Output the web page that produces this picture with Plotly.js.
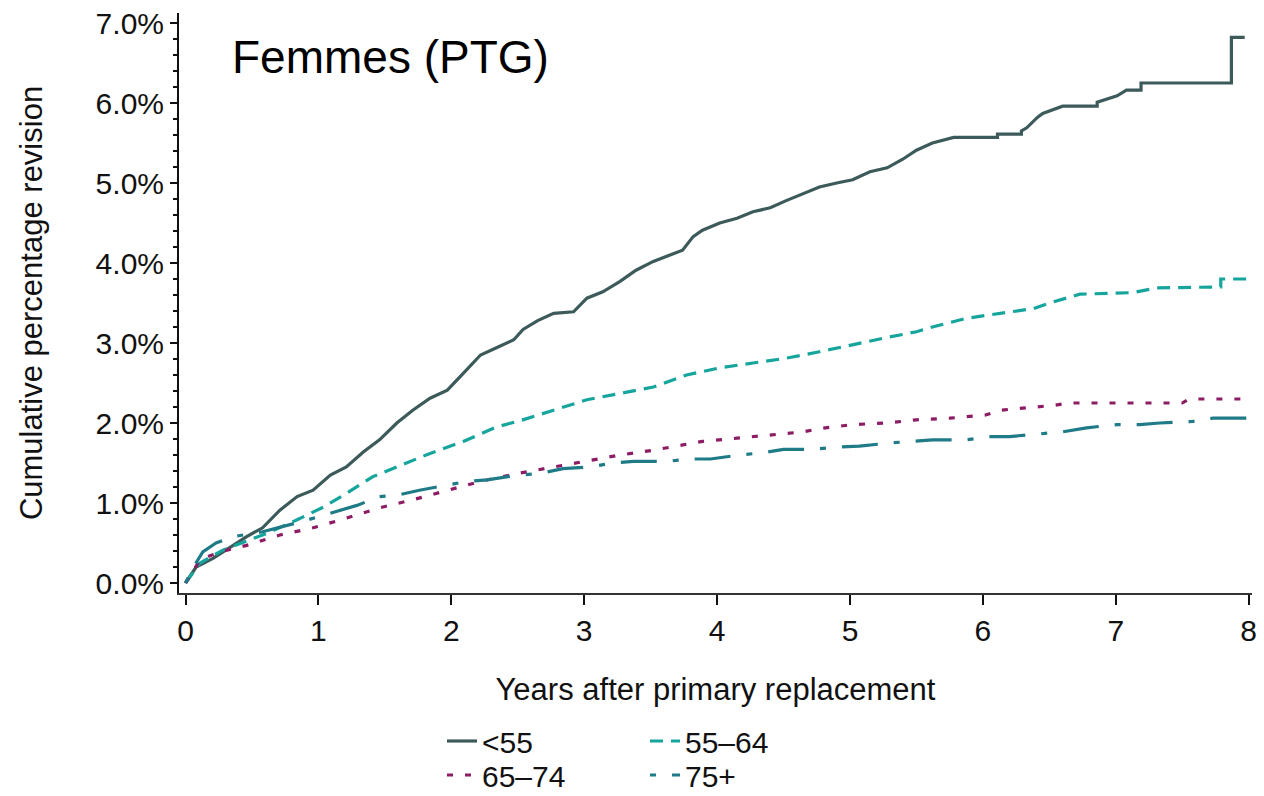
<!DOCTYPE html>
<html>
<head>
<meta charset="utf-8">
<script src="https://cdn.plot.ly/plotly-3.0.1.min.js"></script>
<style>html,body{margin:0;padding:0;background:#fff;}#chart{width:1264px;height:796px;}</style>
</head>
<body>
<div id="chart"></div>
<script>
// Series names
const seriesNames = ['<55', '55–64', '65–74', '75+'];

// <55 (solid)
const lt55_x = [0, 0.08, 0.21, 0.34, 0.46, 0.58, 0.71, 0.84, 0.96, 1.09, 1.21, 1.34, 1.46, 1.59, 1.71, 1.84, 1.97, 2.09, 2.22, 2.34, 2.47, 2.54, 2.65, 2.77, 2.92, 3.02, 3.14, 3.27, 3.39, 3.52, 3.65, 3.74, 3.82, 3.89, 4.02, 4.15, 4.27, 4.40, 4.52, 4.65, 4.77, 4.90, 5.02, 5.15, 5.28, 5.40, 5.50, 5.62, 5.78, 6.11, 6.11, 6.29, 6.29, 6.33, 6.41, 6.45, 6.54, 6.60, 6.86, 6.86, 7.01, 7.08, 7.19, 7.19, 7.87, 7.87, 7.97];
const lt55_y = [0, 0.20, 0.31, 0.45, 0.58, 0.69, 0.91, 1.08, 1.16, 1.35, 1.45, 1.64, 1.79, 2.00, 2.16, 2.31, 2.41, 2.62, 2.85, 2.94, 3.04, 3.17, 3.28, 3.37, 3.39, 3.56, 3.64, 3.77, 3.91, 4.02, 4.10, 4.16, 4.33, 4.41, 4.50, 4.56, 4.64, 4.69, 4.78, 4.87, 4.95, 5.00, 5.04, 5.14, 5.19, 5.30, 5.41, 5.50, 5.57, 5.57, 5.61, 5.61, 5.65, 5.69, 5.82, 5.87, 5.92, 5.96, 5.96, 6.01, 6.09, 6.16, 6.16, 6.25, 6.25, 6.82, 6.82];

// 55–64 (dashed)
const a5564_x = [0, 0.11, 0.28, 0.46, 0.61, 0.84, 1.04, 1.21, 1.41, 1.59, 1.84, 2.09, 2.34, 2.52, 2.77, 3.02, 3.27, 3.52, 3.77, 4.02, 4.27, 4.52, 4.77, 5.02, 5.28, 5.50, 5.62, 5.88, 6.13, 6.38, 6.50, 6.63, 6.73, 7.13, 7.31, 7.79, 7.79, 8.0];
const a5564_y = [0, 0.25, 0.41, 0.52, 0.62, 0.79, 0.95, 1.12, 1.33, 1.45, 1.62, 1.77, 1.95, 2.03, 2.16, 2.29, 2.37, 2.45, 2.60, 2.69, 2.75, 2.81, 2.89, 2.98, 3.07, 3.14, 3.20, 3.31, 3.37, 3.43, 3.50, 3.56, 3.61, 3.63, 3.69, 3.70, 3.80, 3.80];

// 65–74 (dotted)
const a6574_x = [0, 0.11, 0.26, 0.46, 0.71, 0.96, 1.21, 1.46, 1.71, 1.97, 2.22, 2.47, 2.77, 3.02, 3.27, 3.52, 3.72, 3.89, 4.15, 4.40, 4.65, 4.77, 5.02, 5.28, 5.50, 5.75, 6.02, 6.13, 6.38, 6.53, 6.65, 7.50, 7.55, 8.0];
const a6574_y = [0, 0.29, 0.39, 0.47, 0.60, 0.69, 0.81, 0.94, 1.04, 1.16, 1.27, 1.36, 1.45, 1.52, 1.60, 1.66, 1.72, 1.77, 1.81, 1.85, 1.89, 1.93, 1.98, 2.00, 2.04, 2.06, 2.10, 2.16, 2.20, 2.22, 2.25, 2.25, 2.30, 2.30];

// 75+ (dash-dot)
const a75_x = [0, 0.06, 0.13, 0.23, 0.36, 0.58, 0.88, 1.04, 1.16, 1.29, 1.46, 1.60, 1.76, 1.97, 2.12, 2.27, 2.47, 2.67, 2.84, 3.04, 3.22, 3.37, 3.62, 3.80, 3.95, 4.17, 4.35, 4.50, 4.72, 4.90, 5.07, 5.30, 5.47, 5.62, 5.88, 6.04, 6.20, 6.45, 6.60, 6.78, 7.01, 7.18, 7.33, 7.58, 7.73, 8.0];
const a75_y = [0, 0.20, 0.39, 0.50, 0.58, 0.64, 0.77, 0.85, 0.91, 0.97, 1.08, 1.10, 1.16, 1.23, 1.27, 1.29, 1.34, 1.37, 1.43, 1.45, 1.50, 1.52, 1.52, 1.55, 1.55, 1.60, 1.63, 1.67, 1.67, 1.70, 1.71, 1.75, 1.77, 1.79, 1.79, 1.83, 1.83, 1.87, 1.89, 1.94, 1.98, 1.98, 2.00, 2.02, 2.06, 2.06];

const xTicks = [0, 1, 2, 3, 4, 5, 6, 7, 8];
const yTicks = [0, 1, 2, 3, 4, 5, 6, 7];

const FONT = 'Liberation Sans, Arial, Helvetica, sans-serif';

const traces = [
  {x: lt55_x, y: lt55_y, name: seriesNames[0], type: 'scatter', mode: 'lines', legend: 'legend',
   line: {color: '#3d5a5a', width: 3.2, dash: 'solid'}},
  {x: a5564_x, y: a5564_y, name: seriesNames[1], type: 'scatter', mode: 'lines', legend: 'legend',
   line: {color: '#16a59c', width: 3.2, dash: '13px,8px'}},
  {x: a6574_x, y: a6574_y, name: seriesNames[2], type: 'scatter', mode: 'lines', legend: 'legend2',
   line: {color: '#8c1c63', width: 3.2, dash: '6px,12px'}},
  {x: a75_x, y: a75_y, name: seriesNames[3], type: 'scatter', mode: 'lines', legend: 'legend2',
   line: {color: '#1f7b87', width: 3.2, dash: '6px,16px,36px,16px'}}
];

const legendCommon = {
  orientation: 'h', xref: 'container', yref: 'container', xanchor: 'left', yanchor: 'top',
  entrywidth: 158, bgcolor: 'rgba(0,0,0,0)', borderwidth: 0,
  font: {family: FONT, size: 30, color: '#111'}
};

const layout = {
  width: 1264, height: 796,
  margin: {l: 179, r: 12, t: 13, b: 203},
  paper_bgcolor: '#fff', plot_bgcolor: '#fff',
  font: {family: FONT, color: '#111'},
  showlegend: true,
  legend: Object.assign({}, legendCommon, {x: 442/1264, y: 1 - 715/796}),
  legend2: Object.assign({}, legendCommon, {x: 442/1264, y: 1 - 749/796}),
  xaxis: {
    range: [-0.049, 8.025], tickmode: 'array', tickvals: xTicks, ticktext: xTicks.map(String),
    ticks: 'outside', ticklen: 10, tickwidth: 2, tickcolor: '#111',
    showline: true, linecolor: '#333', linewidth: 2, showgrid: false, zeroline: false,
    tickfont: {family: FONT, size: 30, color: '#111'},
    title: {text: 'Years after primary replacement', font: {family: FONT, size: 31, color: '#111'}, standoff: 32}
  },
  yaxis: {
    range: [-0.125, 7.125], tickmode: 'linear', tick0: 0, dtick: 1,
    tickformat: '.1f', ticksuffix: '%',
    ticks: 'outside', ticklen: 7, tickwidth: 2, tickcolor: '#111',
    minor: {tickmode: 'linear', tick0: 0, dtick: 0.2, ticks: 'outside', ticklen: 4, tickwidth: 2, tickcolor: '#111', showgrid: false},
    showline: true, linecolor: '#111', linewidth: 2, showgrid: false, zeroline: false,
    tickfont: {family: FONT, size: 30, color: '#111'},
    title: {text: 'Cumulative percentage revision', font: {family: FONT, size: 31, color: '#111'}, standoff: 44}
  },
  annotations: [{
    text: 'Femmes (PTG)', xref: 'paper', yref: 'paper', x: (230 - 179) / 1073, y: 0.9241,
    xanchor: 'left', yanchor: 'middle', showarrow: false,
    font: {family: FONT, size: 46, color: '#000'}
  }]
};

Plotly.newPlot('chart', traces, layout, {displayModeBar: false, responsive: false});
</script>
</body>
</html>
